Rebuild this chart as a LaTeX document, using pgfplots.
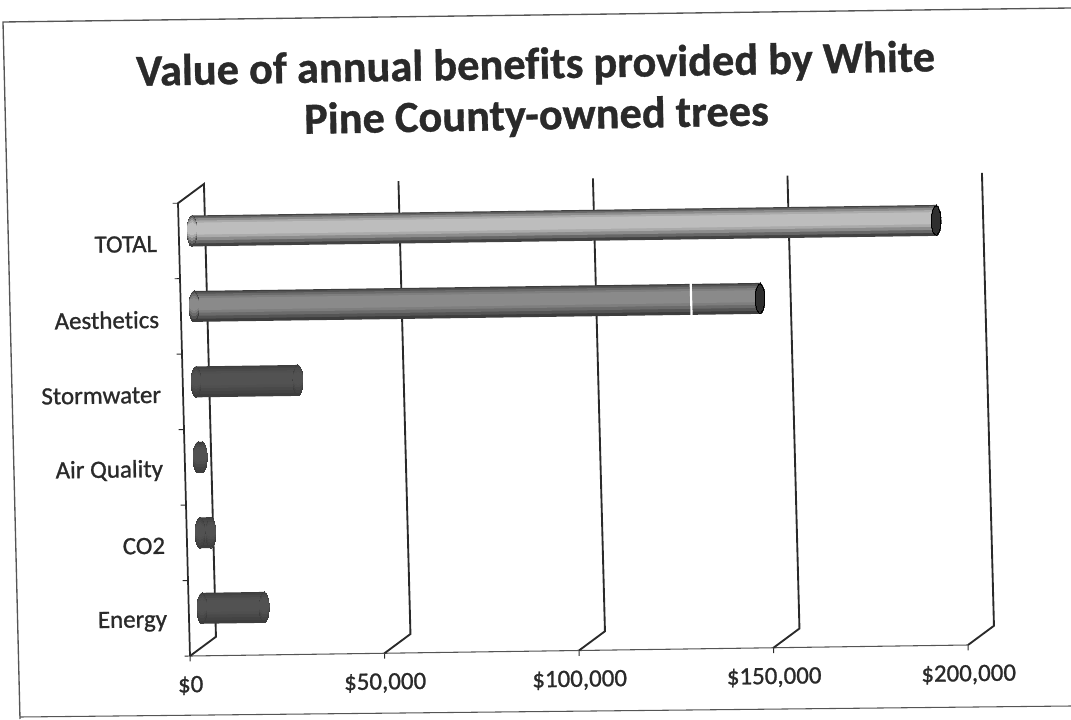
\documentclass[border=0pt]{standalone}
\usepackage{fontspec}
\usepackage{pgfplots}
\pgfplotsset{compat=1.18}
\setmainfont[Ligatures=NoCommon]{Carlito}
\newfontfamily\lab[FakeBold=1,Ligatures=NoCommon]{Carlito}
\newfontfamily\ttl[UprightFont=* Bold,FakeBold=0.8,Ligatures=NoCommon]{Carlito}
\definecolor{ink}{HTML}{2A2A2A}
\definecolor{frameline}{HTML}{555555}
\colorlet{totE}{black!74}
\colorlet{totL}{black!26}
\colorlet{aesE}{black!76}
\colorlet{aesL}{black!46}
\colorlet{drkE}{black!76}
\colorlet{drkL}{black!68}
% px to pt: the page is 1071x719 px at 0.75pt
\newcommand{\px}[2]{({#1*0.75pt},{(719-#2)*0.75pt})}
% one band of a cylinder: value, category, half width (pt), shift up (pt), colour
\newcommand{\lay}[5]{%
  \addplot[#5,line width=2*#3pt,mark=*,mark size=#3pt,mark options={line width=0pt,xscale={3.7/#3},draw=none,fill=#5},xshift=9.75pt,yshift={7.5pt+#4pt},forget plot] coordinates {(0,#2)(#1,#2)};
}
% value, category, edge colour, light colour
\newcommand{\cyl}[4]{%
  \lay{#1}{#2}{11.6}{0}{#3}
  \lay{#1}{#2}{10}{0.7}{#3!70!#4}
  \lay{#1}{#2}{8.25}{1.2}{#3!40!#4}
  \lay{#1}{#2}{6.25}{1.5}{#3!15!#4}
  \lay{#1}{#2}{4.5}{1.7}{#4}
}
% dark end face: value, category, colour
\newcommand{\capend}[3]{%
  \addplot[only marks,mark=*,mark size=11pt,mark options={line width=0pt,xscale=0.32,draw=none,fill=#3},xshift=9.75pt,yshift=7.5pt,forget plot] coordinates {(#1,#2)};
}
\begin{document}
\begin{tikzpicture}
\useasboundingbox (0,0) rectangle (803.25pt,539.25pt);
% scanned page frame
\draw[frameline,line width=1pt] \px{20}{719} -- \px{3}{22} -- \px{1071}{8};
\draw[frameline,line width=0.8pt] \px{20}{717} -- \px{1071}{706};
\node[font=\ttl\fontsize{33.3}{38.3}\selectfont,text=ink,rotate=1.05,align=center] at \px{536}{92}
  {Value of annual benefits provided by White\\Pine County-owned trees};
\begin{axis}[
at={(142.5pt,47.25pt)},
anchor=origin,
x={(2.9175pt,0.04125pt)},
y={(-1.5pt,56.6pt)},
xmin=0,xmax=200,
ymin=0,ymax=6,
clip=false,
axis lines=left,
axis line style={-},
x axis line style={frameline,line width=0.8pt},
y axis line style={ink,line width=1.3pt},
tick style={ink,line width=0.7pt},
tick align=outside,
major tick length=4pt,
xtick={0,50,100,150,200},
xticklabels={\$0,{\$50,000},{\$100,000},{\$150,000},{\$200,000}},
ytick={0,1,2,3,4,5,6},
yticklabels={},
extra y ticks={0.5,1.5,2.5,3.5,4.5,5.5},
extra y tick labels={Energy,CO2,Air Quality,Stormwater,Aesthetics,TOTAL},
extra y tick style={major tick length=0pt},
every tick label/.append style={font=\lab\fontsize{18.7}{22}\selectfont,text=ink,rotate=0.8},
xticklabel style={yshift=-7.5pt},
yticklabel style={xshift=-13pt,yshift=-2pt},
]
% back wall lines with their floor segment, in $1000
\addplot[ink,line width=1.4pt,forget plot] coordinates {(0,0)(6.8,0.25)(6.8,6.25)(0,6)};
\addplot[ink,line width=1.4pt,forget plot] coordinates {(50,0)(56.8,0.25)(56.8,6.25)};
\addplot[ink,line width=1.4pt,forget plot] coordinates {(100,0)(106.8,0.25)(106.8,6.25)};
\addplot[ink,line width=1.4pt,forget plot] coordinates {(150,0)(156.8,0.25)(156.8,6.25)};
\addplot[ink,line width=1.4pt,forget plot] coordinates {(200,0)(206.8,0.25)(206.8,6.25)};
\cyl{191.3}{5.5}{totE}{totL}
\capend{191.3}{5.5}{black!82}
\cyl{145.5}{4.5}{aesE}{aesL}
\capend{145.5}{4.5}{black!82}
\cyl{26.2}{3.5}{drkE}{drkL}
\cyl{1.1}{2.5}{drkE}{drkL}
\cyl{2.8}{1.5}{drkE}{drkL}
\cyl{16}{0.5}{drkE}{drkL}
% white scratch across the Aesthetics bar
\addplot[white,line width=1.6pt,xshift=9.75pt,yshift=7.5pt,forget plot] coordinates {(127.8,4.28)(127.8,4.72)};
\end{axis}
\end{tikzpicture}
\end{document}
